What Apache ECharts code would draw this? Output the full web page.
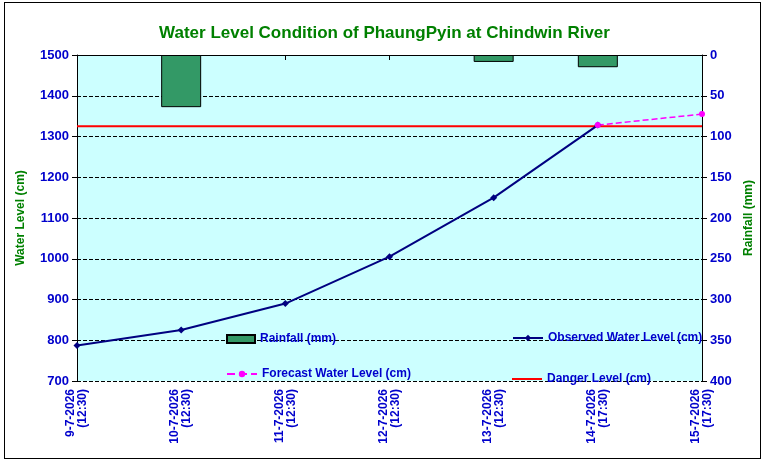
<!DOCTYPE html><html><head><meta charset="utf-8">
<script src="https://cdn.jsdelivr.net/npm/echarts@6/dist/echarts.min.js"></script>
<style>html,body{margin:0;padding:0;background:#fff;}
#frame{position:absolute;left:4px;top:2px;width:755px;height:455px;border:1px solid #000;}
#c{position:absolute;left:0;top:0;width:769px;height:471px;}</style></head><body>
<div id="frame"></div><div id="c"></div>
<script>
const categories=['9-7-2026\n(12:30)','10-7-2026\n(12:30)','11-7-2026\n(12:30)','12-7-2026\n(12:30)','13-7-2026\n(12:30)','14-7-2026\n(17:30)','15-7-2026\n(17:30)'];
const rainfall=[null,64,null,null,8.5,15,null];
const observed=[787,825,890,1005,1150,1328,null];
const forecast=[null,null,null,null,null,1328,1355];
const danger=[1325,1325,1325,1325,1325,1325,1325];
const F='"Liberation Sans Narrow","Liberation Sans",Arial';
const blue='#0000cc';
const chart=echarts.init(document.getElementById('c'));
const lt={fontFamily:F,fontWeight:'bold',fontSize:12,color:blue};
chart.setOption({
 animation:false,
 title:{text:'Water Level Condition of PhaungPyin at Chindwin River',left:'center',top:20,textStyle:{fontFamily:F,fontWeight:'bold',fontSize:17,color:'#008000'}},
 grid:{left:77,right:67,top:55,bottom:90,backgroundColor:'#ccffff',show:true,borderWidth:0},
 legend:[
  {data:[{name:'Rainfall (mm)',icon:'rect'}],left:221,top:328,itemWidth:28,itemHeight:8,textStyle:lt,itemGap:4},
  {data:['Observed Water Level (cm)'],left:507,top:327,itemWidth:30,itemHeight:8,textStyle:lt,itemGap:4},
  {data:['Forecast Water Level (cm)'],left:221,top:363,itemWidth:30,itemHeight:8,textStyle:lt,itemGap:4},
  {data:[{name:'Danger Level (cm)',icon:'rect'}],left:507,top:368,itemWidth:30,itemHeight:2,textStyle:lt,itemGap:4}
 ],
 xAxis:{type:'category',data:categories,boundaryGap:false,
  axisLine:{lineStyle:{color:'#000'}},axisTick:{lineStyle:{color:'#000'},length:5},
  axisLabel:{rotate:90,fontFamily:F,fontWeight:'bold',fontSize:12,color:blue,lineHeight:12,interval:0}},
 yAxis:[
  {type:'value',min:700,max:1500,interval:100,name:'Water Level (cm)',nameLocation:'middle',nameGap:50,nameRotate:90,
   nameTextStyle:{fontFamily:F,fontWeight:'bold',fontSize:12,color:'#008000'},
   axisLine:{show:true,lineStyle:{color:'#000'}},axisTick:{show:true,length:5,lineStyle:{color:'#000'}},
   axisLabel:{fontFamily:F,fontWeight:'bold',fontSize:13,color:blue,formatter:v=>String(v)},
   splitLine:{lineStyle:{color:'#000',type:'dashed',width:1}}},
  {type:'value',min:0,max:400,interval:50,inverse:true,position:'right',name:'Rainfall (mm)',nameLocation:'middle',nameGap:40,nameRotate:90,
   nameTextStyle:{fontFamily:F,fontWeight:'bold',fontSize:12,color:'#008000'},
   axisLine:{show:true,lineStyle:{color:'#000'}},axisTick:{show:true,length:5,lineStyle:{color:'#000'}},
   axisLabel:{fontFamily:F,fontWeight:'bold',fontSize:13,color:blue},splitLine:{show:false}}
 ],
 series:[
  {name:'Rainfall (mm)',type:'bar',yAxisIndex:1,data:rainfall,barWidth:40,itemStyle:{color:'#339966',borderColor:'#000',borderWidth:1}},
  {name:'Danger Level (cm)',type:'line',data:danger,symbol:'none',lineStyle:{color:'#ff0000',width:2},itemStyle:{color:'#ff0000'}},
  {name:'Observed Water Level (cm)',type:'line',data:observed,symbol:'diamond',symbolSize:7,lineStyle:{color:'#000080',width:2},itemStyle:{color:'#000080'}},
  {name:'Forecast Water Level (cm)',type:'line',data:forecast,symbol:'circle',symbolSize:6,lineStyle:{color:'#ff00ff',width:1.5,type:'dashed'},itemStyle:{color:'#ff00ff'}}
 ]
});
</script></body></html>
